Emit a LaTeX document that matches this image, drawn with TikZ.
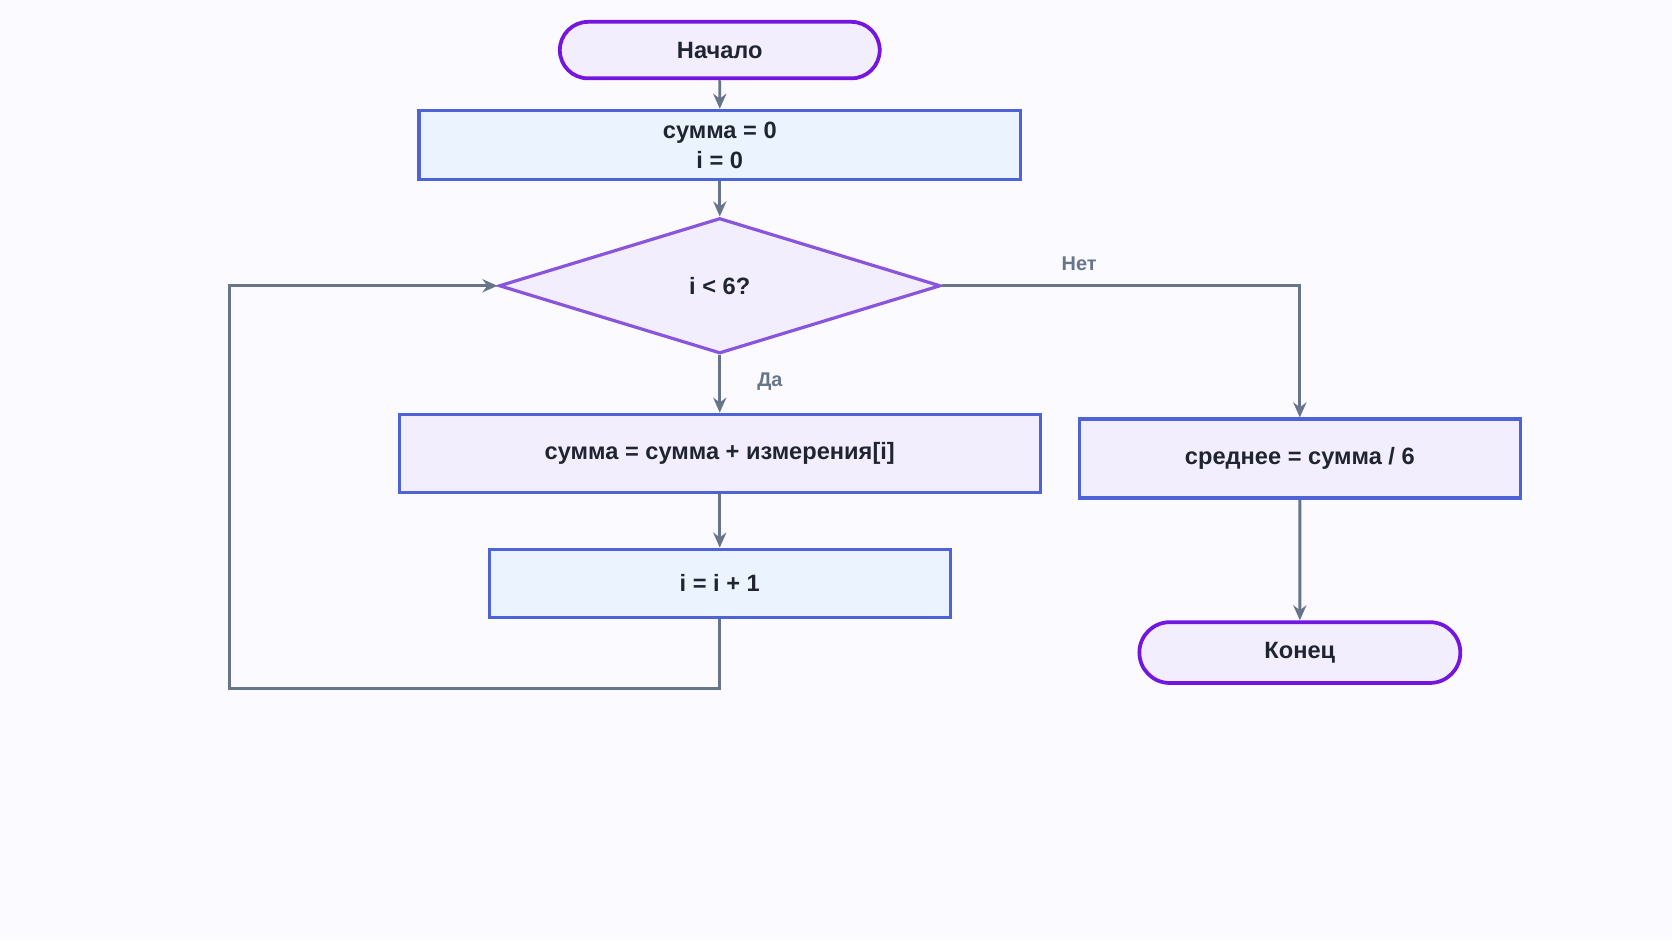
\documentclass[tikz,border=0pt]{standalone}
\usepackage{fontspec}
\setmainfont{Liberation Sans}
\usetikzlibrary{shapes.geometric,shapes.misc,arrows.meta}
\definecolor{bgc}{HTML}{FAFAFF}
\definecolor{termline}{HTML}{7415E0}
\definecolor{termfill}{HTML}{F3EEFD}
\definecolor{procline}{HTML}{4F63D9}
\definecolor{procfill}{HTML}{EBF3FE}
\definecolor{decline}{HTML}{8A55DD}
\definecolor{arrc}{HTML}{67758A}
\definecolor{txt}{HTML}{1F2430}
\newcommand{\px}{*0.01cm}

\begin{document}
\begin{tikzpicture}[x=0.01cm, y=-0.01cm,
    every node/.style={font=\fontsize{6.3}{8}\selectfont\bfseries, text=txt},
    term/.style={draw=termline, fill=termfill, line width=1pt, rounded rectangle, inner sep=0pt},
    proc/.style={draw=procline, fill=procfill, line width=0.85pt, rectangle, inner sep=0pt, align=center},
    dec/.style={draw=decline, fill=termfill, line width=0.85pt, diamond, inner sep=0pt},
    arr/.style={draw=arrc, line width=0.75pt, -{Stealth[length=4pt,width=3.5pt]}},
    lbl/.style={text=arrc, font=\fontsize{5.3}{6}\selectfont\bfseries}]
    \fill[bgc] (0,0) rectangle (1568,882);
    % nodes
    \node[term, minimum width=300\px, minimum height=53\px] (start) at (675,47) {Начало};
    \node[proc, minimum width=564\px, minimum height=65\px] (init) at (675,136) {сумма = 0\\i = 0};
    \node[dec, minimum width=414\px, minimum height=127\px] (cond) at (675,268) {i < 6?};
    \node[proc, fill=termfill, minimum width=601\px, minimum height=73\px] (body) at (675,425) {сумма = сумма + измерения[i]};
    \node[proc, minimum width=432\px, minimum height=64\px] (inc) at (675,547) {i = i + 1};
    \node[proc, fill=termfill, minimum width=414\px, minimum height=74\px] (avg) at (1219,430) {среднее = сумма / 6};
    \node[term, minimum width=301\px, minimum height=57\px] (stop) at (1219,612) {Конец};
    \coordinate (loopa) at (675,646);
    \coordinate (loopb) at (215,646);
    \coordinate (loopc) at (215,268);
    \coordinate (nobend) at (1219,268);
    % connectors
    \draw[arr] (start) -- (init);
    \draw[arr] (init) -- (cond);
    \draw[arr] (cond) -- (body);
    \draw[arr] (body) -- (inc);
    \draw[arr] (inc.south) -- (loopa) -- (loopb) -- (loopc) -- (cond.west);
    \draw[arr] (cond.east) -- (nobend) -- (avg.north);
    \draw[arr] (avg) -- (stop);
    % labels
    \node[lbl] (yes) at (722,358) {Да};
    \node[lbl] (no) at (1012,247) {Нет};
\end{tikzpicture}
\end{document}
